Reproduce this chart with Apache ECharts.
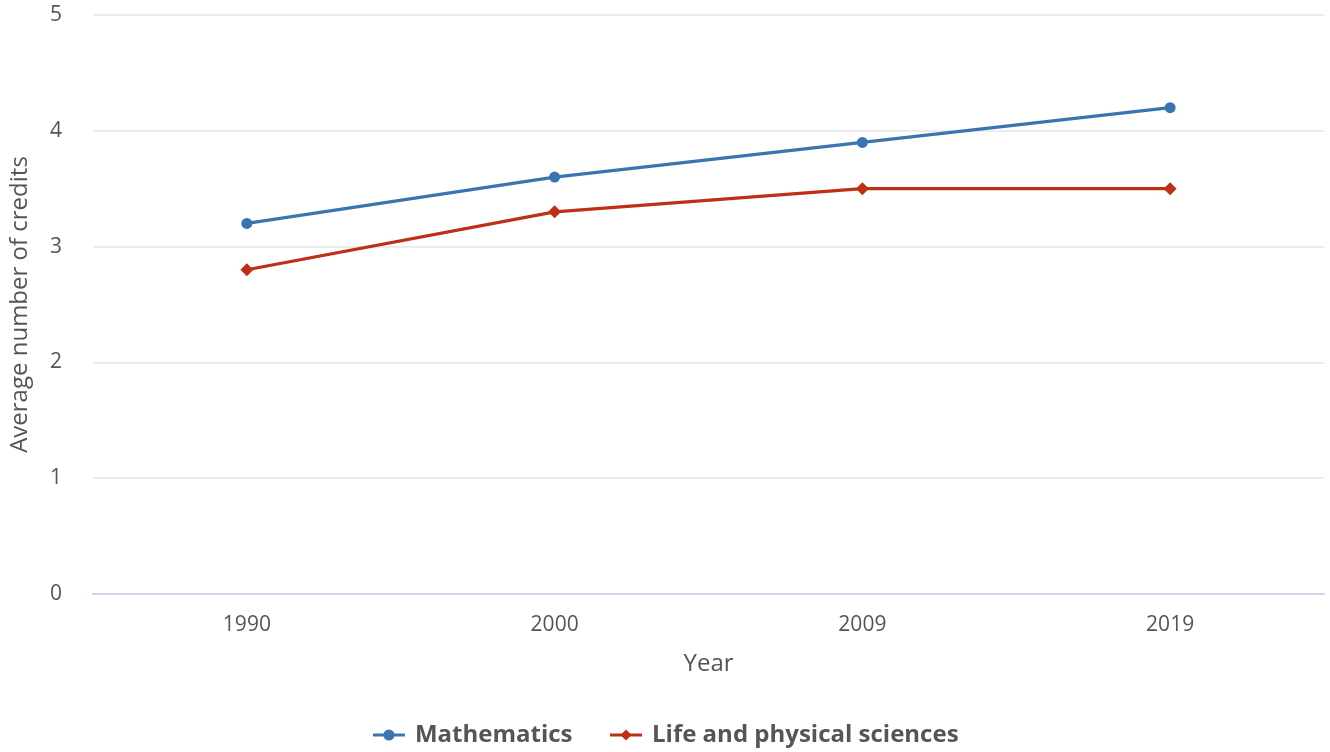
<!DOCTYPE html>
<html>
<head>
<meta charset="utf-8">
<script src="https://cdn.jsdelivr.net/npm/echarts@6/dist/echarts.min.js"></script>
<style>html,body{margin:0;padding:0;background:#fff}#c{width:1330px;height:752px}</style>
</head>
<body>
<div id="c"></div>
<script>
const years = ['1990', '2000', '2009', '2019'];
const mathematics = [3.2, 3.6, 3.9, 4.2];
const lifePhysical = [2.8, 3.3, 3.5, 3.5];
const yTicks = [0, 1, 2, 3, 4, 5];

const font = '"Open Sans", "Noto Sans", sans-serif';
const chart = echarts.init(document.getElementById('c'));
chart.setOption({
  animation: false,
  textStyle: { fontFamily: font },
  grid: { left: 93, right: 6, top: 15, bottom: 158, containLabel: false },
  legend: {
    bottom: 0, left: 'center', itemGap: 36, itemWidth: 32, itemHeight: 14,
    lineStyle: { width: 3 },
    textStyle: { fontFamily: font, fontSize: 24, fontWeight: 'bold', color: '#555', padding: [0, 0, 0, 5] },
    data: ['Mathematics', 'Life and physical sciences']
  },
  xAxis: {
    type: 'category', data: years, boundaryGap: true,
    name: 'Year', nameLocation: 'middle', nameGap: 58,
    nameTextStyle: { fontFamily: font, fontSize: 24, color: '#555' },
    axisLine: { lineStyle: { color: '#ccd6eb', width: 2 } },
    axisTick: { alignWithLabel: true, length: 18, lineStyle: { color: '#ccd6eb', width: 2 } },
    axisLabel: { fontFamily: font, fontSize: 21, color: '#555', margin: 21 }
  },
  yAxis: {
    type: 'value', min: yTicks[0], max: yTicks[yTicks.length - 1], interval: 1,
    name: 'Average number of credits', nameLocation: 'middle', nameGap: 61,
    nameTextStyle: { fontFamily: font, fontSize: 24, color: '#555' },
    axisLine: { show: false }, axisTick: { show: false },
    axisLabel: { fontFamily: font, fontSize: 21, color: '#555', margin: 31 },
    splitLine: { lineStyle: { color: '#e6e6e6', width: 1.5 } }
  },
  series: [
    {
      name: 'Mathematics', type: 'line', data: mathematics,
      symbol: 'circle', symbolSize: 11,
      itemStyle: { color: '#3b75b1' }, lineStyle: { width: 3.2, color: '#3b75b1' }
    },
    {
      name: 'Life and physical sciences', type: 'line', data: lifePhysical,
      symbol: 'diamond', symbolSize: 13,
      itemStyle: { color: '#bf2f17' }, lineStyle: { width: 3.2, color: '#bf2f17' }
    }
  ]
});
</script>
</body>
</html>
